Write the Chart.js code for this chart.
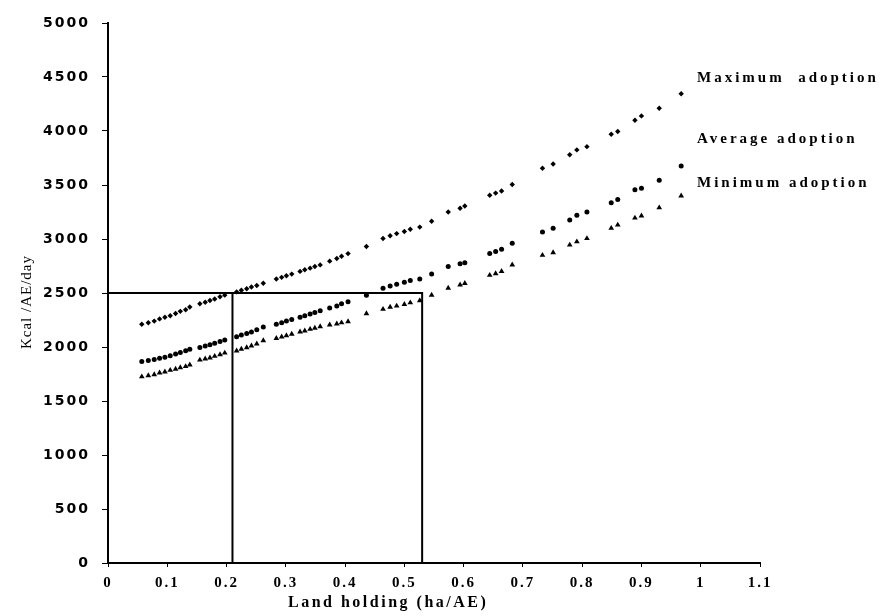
<!DOCTYPE html>
<html>
<head>
<meta charset="utf-8">
<script src="https://cdn.jsdelivr.net/npm/chart.js@4.4.1/dist/chart.umd.min.js"></script>
<style>
  body { margin: 0; background: #fff; }
  canvas { display: block; }
</style>
</head>
<body>
<canvas id="grap1" width="885" height="616"></canvas>
<script>
// land holding (ha/AE) for each simulated household
var landHolding = [0.057, 0.068, 0.078, 0.087, 0.096, 0.105, 0.114, 0.122, 0.131, 0.138,
    0.155, 0.164, 0.172, 0.180, 0.189, 0.197,
    0.217, 0.225, 0.234, 0.242, 0.251, 0.262,
    0.284, 0.293, 0.301, 0.310, 0.324, 0.332, 0.341, 0.349, 0.358, 0.374, 0.386, 0.394, 0.405,
    0.436, 0.464, 0.476, 0.487, 0.500, 0.510, 0.526,
    0.546, 0.574, 0.594, 0.602,
    0.644, 0.654, 0.664, 0.682,
    0.733, 0.751, 0.779, 0.791, 0.808,
    0.849, 0.860, 0.889, 0.900, 0.930, 0.967];

var maxAdoption = [2210, 2225, 2240, 2260, 2275, 2290, 2310, 2330, 2345, 2370,
    2400, 2415, 2430, 2445, 2465, 2480,
    2510, 2525, 2540, 2555, 2570, 2590,
    2630, 2645, 2660, 2675, 2700, 2715, 2730, 2745, 2760, 2795, 2820, 2840, 2865,
    2930, 3005, 3030, 3050, 3070, 3090, 3110,
    3165, 3250, 3285, 3305,
    3405, 3425, 3445, 3505,
    3655, 3695, 3780, 3825, 3855,
    3970, 3995, 4100, 4140, 4210, 4345];

var avgAdoption = [1865, 1875, 1885, 1895, 1905, 1920, 1935, 1950, 1965, 1980,
    1995, 2010, 2020, 2035, 2050, 2065,
    2095, 2110, 2125, 2140, 2160, 2185,
    2210, 2225, 2240, 2255, 2275, 2290, 2305, 2320, 2335, 2360, 2380, 2400, 2420,
    2480, 2545, 2565, 2580, 2600, 2615, 2630,
    2675, 2745, 2770, 2780,
    2865, 2885, 2905, 2960,
    3065, 3100, 3175, 3220, 3250,
    3335, 3365, 3455, 3470, 3545, 3675];

var minAdoption = [1725, 1735, 1745, 1760, 1770, 1785, 1795, 1810, 1820, 1835,
    1880, 1890, 1900, 1915, 1930, 1945,
    1965, 1980, 1995, 2010, 2030, 2060,
    2080, 2095, 2105, 2120, 2140, 2150, 2165, 2175, 2190, 2205, 2215, 2225, 2235,
    2310, 2350, 2370, 2380, 2395, 2410, 2430,
    2480, 2545, 2575, 2590,
    2665, 2680, 2700, 2760,
    2850, 2875, 2945, 2975, 3005,
    3100, 3130, 3195, 3215, 3290, 3400];

// 2500 kcal requirement and the land holdings that reach it
var requirement = 2500;
var landAtMax = 0.21;
var landAtMin = 0.53;

var seriesNames = ["Maximum  adoption", "Average adoption", "Minimum adoption"];
var xTickLabels = ["0", "0.1", "0.2", "0.3", "0.4", "0.5", "0.6", "0.7", "0.8", "0.9", "1", "1.1"];
var yTickLabels = ["0", "500", "1000", "1500", "2000", "2500", "3000", "3500", "4000", "4500", "5000"];

function pts(ys) {
    return landHolding.map(function (x, i) { return { x: x, y: ys[i] }; });
}

var textPlugin = {
    id: 'texts',
    beforeDraw: function (chart) {
        // the scanned figure has loosely spaced digits
        chart.ctx.letterSpacing = '2px';
    },
    afterDraw: function (chart) {
        var c = chart.ctx;
        c.save();
        c.fillStyle = '#000';
        c.letterSpacing = '1px';
        c.translate(27, 302);
        c.rotate(-Math.PI / 2);
        c.font = '15px "Liberation Serif"';
        c.textAlign = 'center';
        c.textBaseline = 'middle';
        c.fillText('Kcal /AE/day', 0, 0);
        c.restore();

        c.save();
        c.fillStyle = '#000';
        c.textBaseline = 'middle';
        c.textAlign = 'left';
        c.font = 'bold 16px "Liberation Serif"';
        c.letterSpacing = '2.5px';
        c.fillText('Land holding (ha/AE)', 288, 603);

        c.font = 'bold 15px "Liberation Serif"';
        c.letterSpacing = '3px';
        var labelY = [78, 139, 183];
        seriesNames.forEach(function (name, i) {
            c.fillText(name, 697, labelY[i]);
        });
        c.restore();
    }
};

var ctx = document.getElementById("grap1").getContext("2d");
var myChart = new Chart(ctx, {
    type: 'scatter',
    data: {
        datasets: [{
            label: seriesNames[0],
            data: pts(maxAdoption),
            pointStyle: 'rectRot',
            pointRadius: 2.7,
            backgroundColor: '#000',
            borderColor: '#000',
            borderWidth: 0
        }, {
            label: seriesNames[1],
            data: pts(avgAdoption),
            pointStyle: 'circle',
            pointRadius: 2.5,
            backgroundColor: '#000',
            borderColor: '#000',
            borderWidth: 0
        }, {
            label: seriesNames[2],
            data: pts(minAdoption),
            pointStyle: 'triangle',
            pointRadius: 3.3,
            backgroundColor: '#000',
            borderColor: '#000',
            borderWidth: 0
        }, {
            label: 'box',
            data: [{ x: 0, y: requirement }, { x: landAtMin, y: requirement }, { x: landAtMin, y: 0 }],
            showLine: true,
            pointRadius: 0,
            borderColor: '#000',
            borderWidth: 2
        }, {
            label: 'drop',
            data: [{ x: landAtMax, y: requirement }, { x: landAtMax, y: 0 }],
            showLine: true,
            pointRadius: 0,
            borderColor: '#000',
            borderWidth: 2
        }]
    },
    options: {
        responsive: false,
        animation: false,
        layout: { padding: { top: 23, right: 125, left: 0, bottom: 0 } },
        plugins: {
            legend: { display: false },
            tooltip: { enabled: false }
        },
        scales: {
            x: {
                type: 'linear',
                min: 0,
                max: 1.1,
                afterFit: function (s) { s.height = 53; },
                ticks: {
                    stepSize: 0.1,
                    color: '#000',
                    padding: 7,
                    maxRotation: 0,
                    font: { family: '"Liberation Serif"', size: 15, weight: 'bold' },
                    callback: function (v, i) { return xTickLabels[i]; }
                },
                grid: { drawOnChartArea: false, color: '#000', tickLength: 4, lineWidth: 1 },
                border: { color: '#000', width: 2 }
            },
            y: {
                min: 0,
                max: 5000,
                afterFit: function (s) { s.width = 108; },
                ticks: {
                    stepSize: 500,
                    color: '#000',
                    padding: 12,
                    font: { family: '"DejaVu Sans"', size: 14, weight: 'bold' },
                    callback: function (v, i) { return yTickLabels[i]; }
                },
                grid: { drawOnChartArea: false, color: '#000', tickLength: 6, lineWidth: 1 },
                border: { color: '#000', width: 2 }
            }
        }
    },
    plugins: [textPlugin]
});
</script>
</body>
</html>
